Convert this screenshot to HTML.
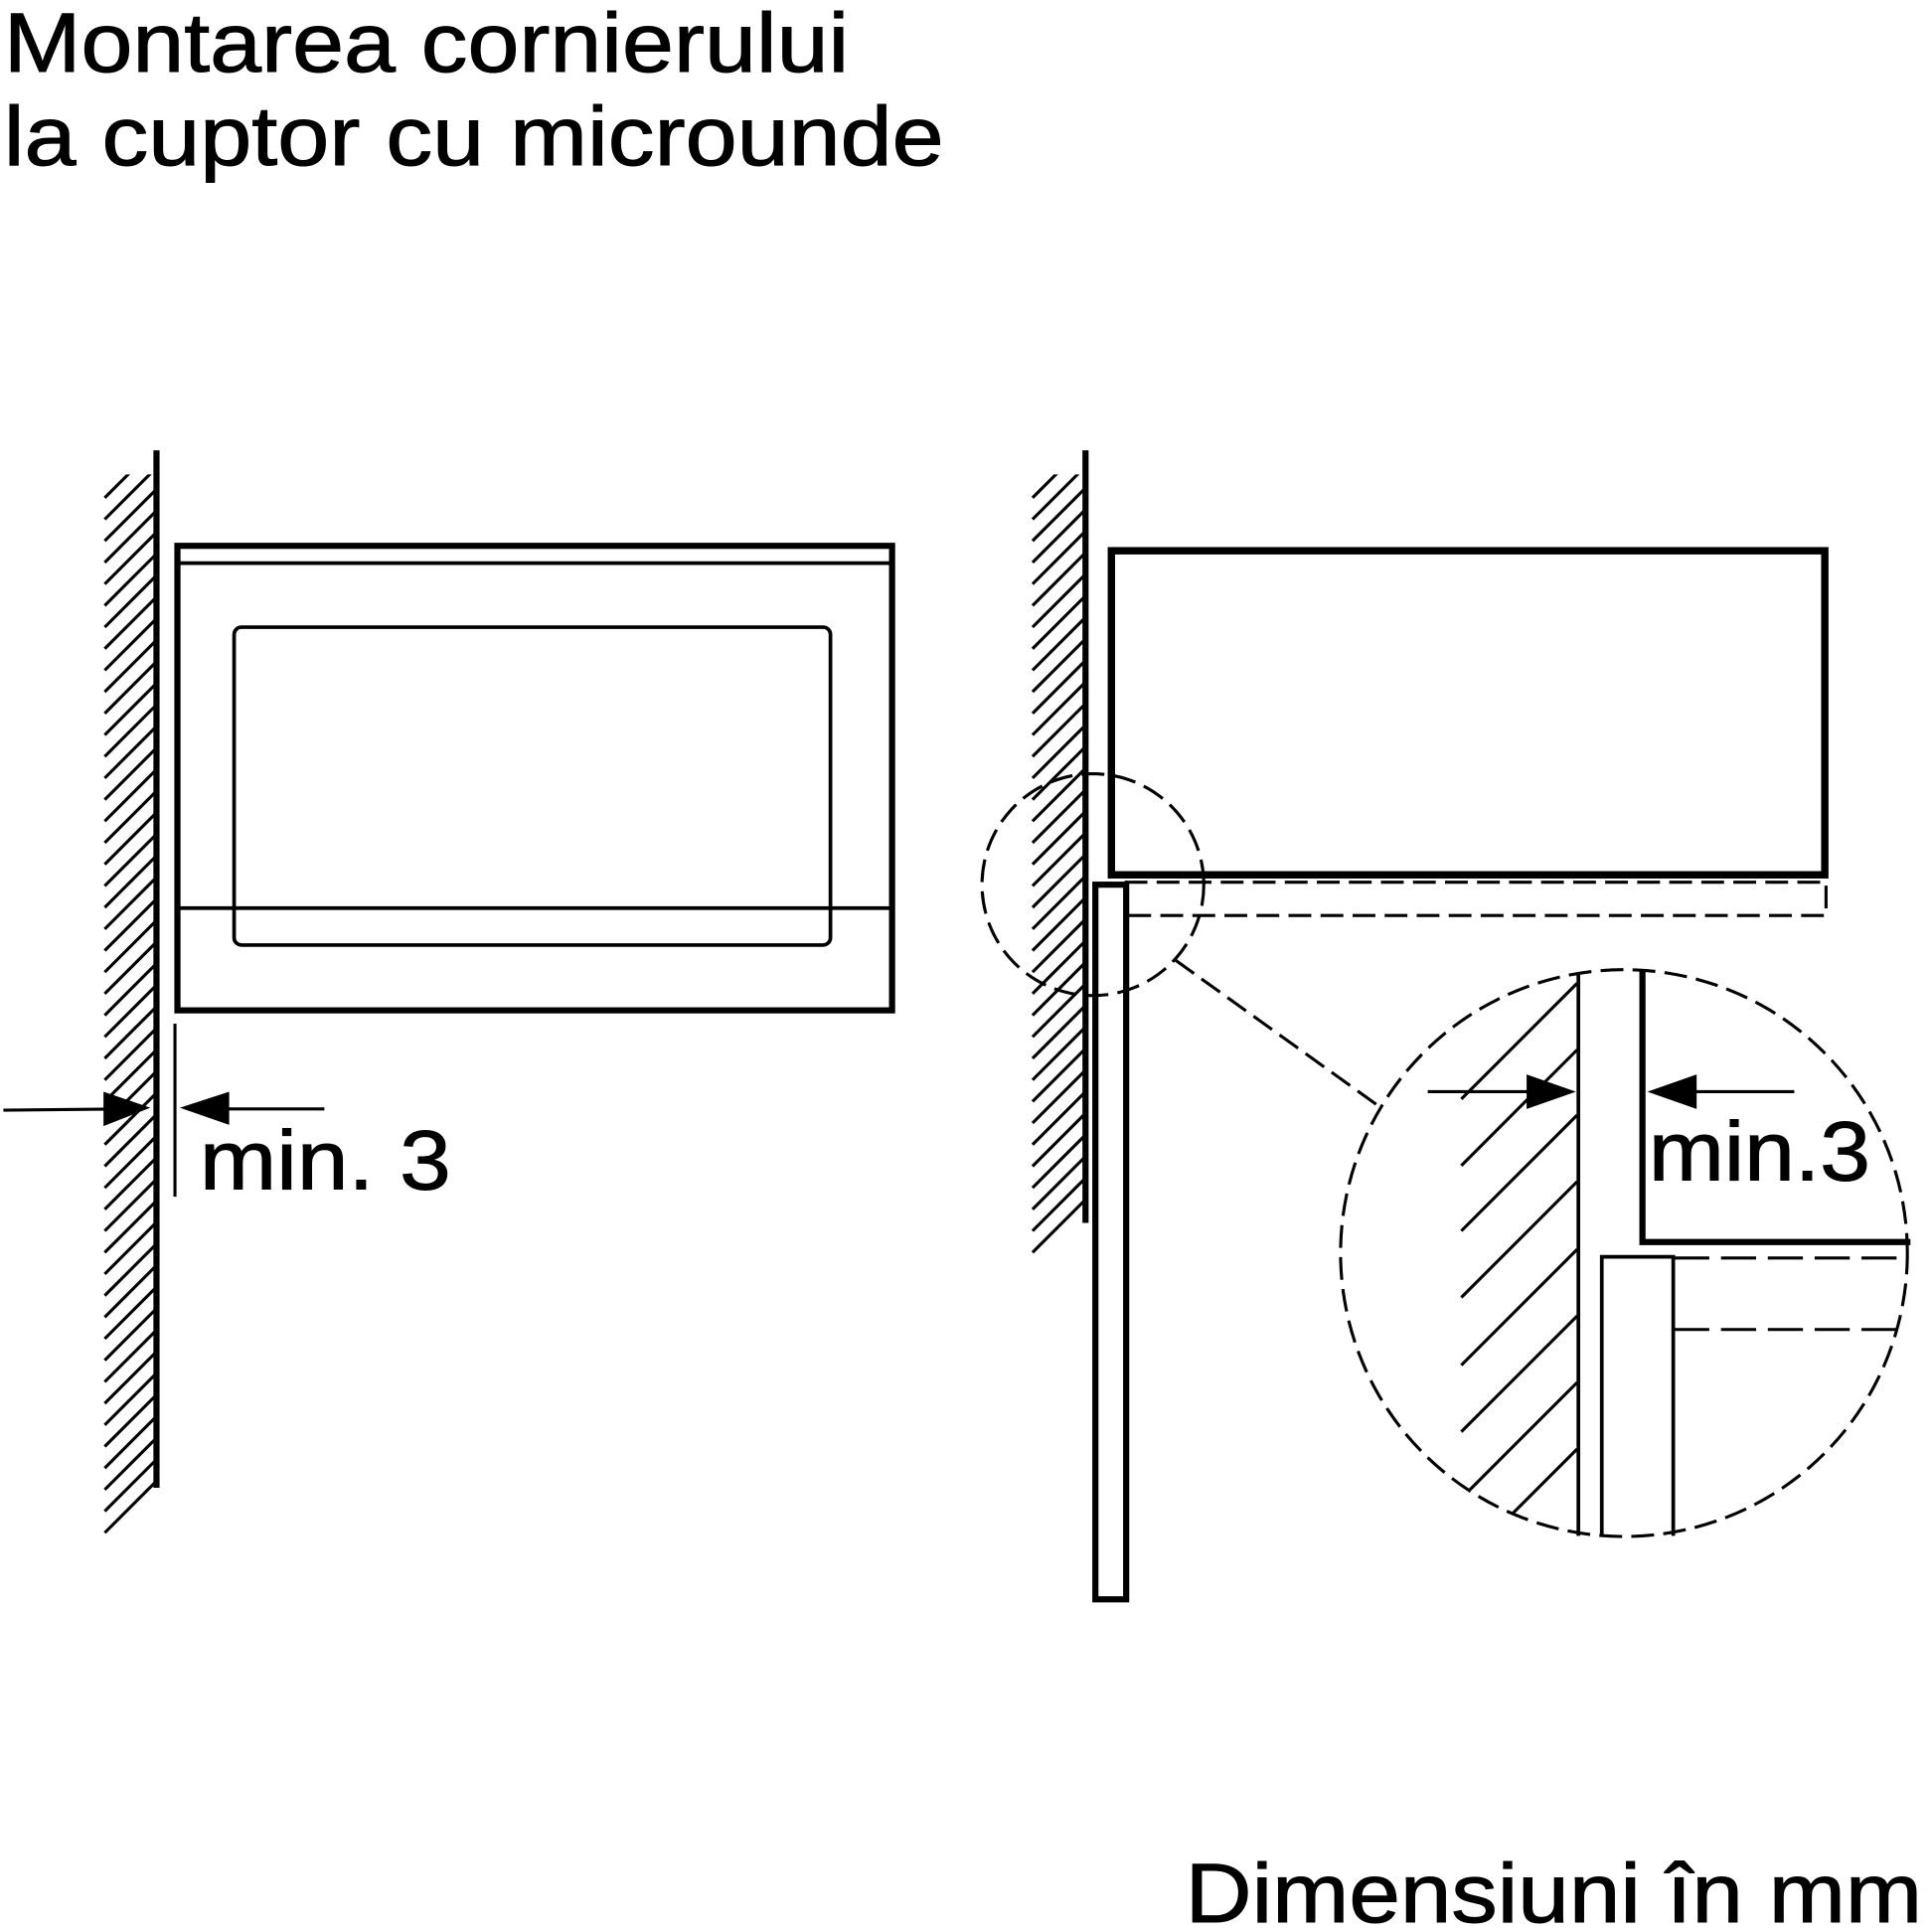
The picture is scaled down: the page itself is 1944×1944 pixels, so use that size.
<!DOCTYPE html>
<html><head><style>html,body{margin:0;padding:0;background:#fff}svg{display:block}</style></head><body>
<svg width="1944" height="1944" viewBox="0 0 1568 1568" xmlns="http://www.w3.org/2000/svg" font-family="Liberation Sans, sans-serif">
<defs>
<clipPath id="lh"><rect x="80" y="385" width="47" height="865"/></clipPath>
<clipPath id="rh"><rect x="834" y="385" width="47" height="640"/></clipPath>
<clipPath id="bh"><circle cx="1318" cy="1017" r="230"/></clipPath>
</defs>
<g stroke="#000" stroke-width="0.8">
<text x="3" y="58" font-size="68" textLength="686" lengthAdjust="spacingAndGlyphs">Montarea cornierului</text>
<text x="3" y="134" font-size="68" textLength="763" lengthAdjust="spacingAndGlyphs">la cuptor cu microunde</text>
<text x="962" y="1560" font-size="68" textLength="598" lengthAdjust="spacingAndGlyphs">Dimensiuni în mm</text>
<text x="162" y="965" font-size="68" textLength="204" lengthAdjust="spacingAndGlyphs">min. 3</text>
<text x="1338" y="958" font-size="68" textLength="180" lengthAdjust="spacingAndGlyphs">min.3</text>
</g>
<g stroke="#000" fill="none" stroke-linecap="square">
<line x1="127" y1="368" x2="127" y2="1205" stroke-width="5"/>
<rect x="144" y="443" width="580" height="377" stroke-width="5"/>
<line x1="144" y1="457" x2="721" y2="457" stroke-width="3"/>
<rect x="190" y="509" width="484" height="258" rx="6" stroke-width="3"/>
<line x1="146" y1="737" x2="722" y2="737" stroke-width="3"/>
<line x1="142" y1="832" x2="142" y2="970" stroke-width="2.5"/>
<line x1="4" y1="901" x2="100" y2="900" stroke-width="2.5"/>
<line x1="262" y1="900" x2="165" y2="900" stroke-width="2.5"/>
<line x1="881" y1="368" x2="881" y2="990" stroke-width="5"/>
<rect x="902" y="447" width="579" height="263" stroke-width="6"/>
<path d="M914 716 H1482 V743 H914" stroke-width="2.5" stroke-dasharray="16 10"/>
<rect x="889" y="718" width="25" height="580" stroke-width="5"/>
<circle cx="887" cy="718" r="90" stroke-width="2.5" stroke-dasharray="16 10"/>
<line x1="955" y1="780" x2="1118" y2="897" stroke-width="2.5" stroke-dasharray="16 10"/>
<circle cx="1318" cy="1017" r="230" stroke-width="2.5" stroke-dasharray="16 10"/>
<line x1="1281" y1="792" x2="1281" y2="1245" stroke-width="3"/>
<path d="M1300 1245 V1020 H1358 V1245" stroke-width="3"/>
<path d="M1333 790 V1008 H1548" stroke-width="5"/>
<line x1="1360" y1="1021" x2="1548" y2="1021" stroke-width="2.5" stroke-dasharray="26 12"/>
<line x1="1360" y1="1079" x2="1540" y2="1079" stroke-width="2.5" stroke-dasharray="26 12"/>
<line x1="1160" y1="886" x2="1250" y2="886" stroke-width="2.5"/>
<line x1="1455" y1="886" x2="1365" y2="886" stroke-width="2.5"/>
</g>
<g stroke="#000" stroke-width="2.5" clip-path="url(#lh)">
<path d="M85 404L127 362M85 421.5L127 379.5M85 439L127 397M85 456.5L127 414.5M85 474L127 432M85 491.5L127 449.5M85 509L127 467M85 526.5L127 484.5M85 544L127 502M85 561.5L127 519.5M85 579L127 537M85 596.5L127 554.5M85 614L127 572M85 631.5L127 589.5M85 649L127 607M85 666.5L127 624.5M85 684L127 642M85 701.5L127 659.5M85 719L127 677M85 736.5L127 694.5M85 754L127 712M85 771.5L127 729.5M85 789L127 747M85 806.5L127 764.5M85 824L127 782M85 841.5L127 799.5M85 859L127 817M85 876.5L127 834.5M85 894L127 852M85 911.5L127 869.5M85 929L127 887M85 946.5L127 904.5M85 964L127 922M85 981.5L127 939.5M85 999L127 957M85 1016.5L127 974.5M85 1034L127 992M85 1051.5L127 1009.5M85 1069L127 1027M85 1086.5L127 1044.5M85 1104L127 1062M85 1121.5L127 1079.5M85 1139L127 1097M85 1156.5L127 1114.5M85 1174L127 1132M85 1191.5L127 1149.5M85 1209L127 1167M85 1226.5L127 1184.5M85 1244L127 1202"/>
</g>
<g stroke="#000" stroke-width="2.5" clip-path="url(#rh)">
<path d="M838 404L880 362M838 421.5L880 379.5M838 439L880 397M838 456.5L880 414.5M838 474L880 432M838 491.5L880 449.5M838 509L880 467M838 526.5L880 484.5M838 544L880 502M838 561.5L880 519.5M838 579L880 537M838 596.5L880 554.5M838 614L880 572M838 631.5L880 589.5M838 649L880 607M838 666.5L880 624.5M838 684L880 642M838 701.5L880 659.5M838 719L880 677M838 736.5L880 694.5M838 754L880 712M838 771.5L880 729.5M838 789L880 747M838 806.5L880 764.5M838 824L880 782M838 841.5L880 799.5M838 859L880 817M838 876.5L880 834.5M838 894L880 852M838 911.5L880 869.5M838 929L880 887M838 946.5L880 904.5M838 964L880 922M838 981.5L880 939.5M838 999L880 957M838 1016.5L880 974.5"/>
</g>
<g stroke="#000" stroke-width="2.5" clip-path="url(#bh)">
<path d="M1186 946L1280 852M1186 999L1280 905M1186 1053L1280 959M1186 1108L1280 1014M1186 1162L1280 1068M1186 1216L1280 1122M1226 1230L1280 1176M1186 892L1280 798"/>
</g>
<g fill="#000">
<polygon points="122,899 84,886 84,914"/>
<polygon points="146,899 186,886 186,913"/>
<polygon points="1279,886 1239,872 1239,900"/>
<polygon points="1337,886 1377,872 1377,900"/>
</g>
</svg>
</body></html>
